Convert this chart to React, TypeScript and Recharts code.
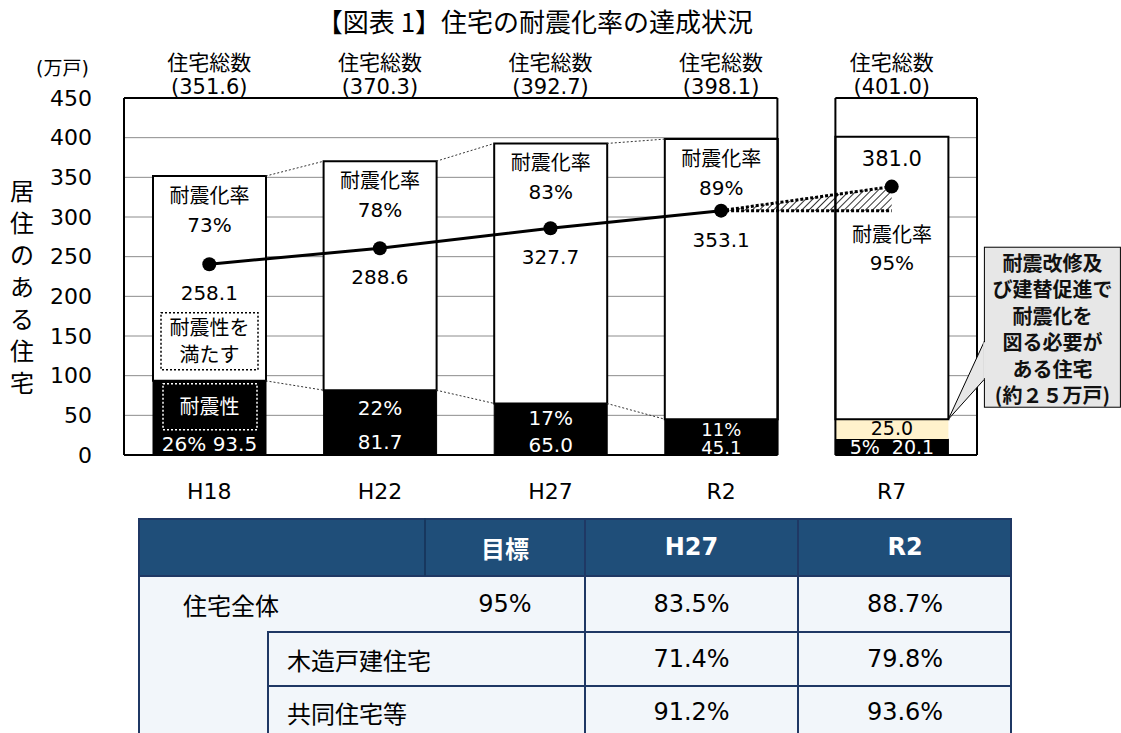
import React from 'react';
import {
  ComposedChart,
  Bar,
  Line,
  Area,
  XAxis,
  YAxis,
  CartesianGrid,
  LabelList,
  ReferenceLine,
  ReferenceArea,
} from 'recharts';

// 住宅の耐震化の状況（万戸）
const years = ['H18', 'H22', 'H27', 'R2', 'R7'];
const totalLabels = ['351.6', '370.3', '392.7', '398.1', '401.0'];
const weak = [93.5, 81.7, 65.0, 45.1, 20.1]; // 耐震性なし
const strong = [258.1, 288.6, 327.7, 353.1, 381.0]; // 耐震性を満たす
const needed = [0, 0, 0, 0, 25.0]; // 耐震化を図る必要がある住宅
const strongRate = [73, 78, 83, 89, 95];
const weakRate = [26, 22, 17, 11, 5];
const trend = [240.5, 260.6, 285.9, 308.0, null];
const projection = [null, null, null, 308.0, 338.3];
const yTicks = [0, 50, 100, 150, 200, 250, 300, 350, 400, 450];
const axisTitle = '居住のある住宅';
const callout = ['耐震改修及', 'び建替促進で', '耐震化を', '図る必要が', 'ある住宅', '(約２５万戸)'];

const tableHead = ['目標', 'H27', 'R2'];
const tableRows = [
  { label: '住宅全体', target: '95%', h27: '83.5%', r2: '88.7%', sub: false },
  { label: '木造戸建住宅', target: '', h27: '71.4%', r2: '79.8%', sub: true },
  { label: '共同住宅等', target: '', h27: '91.2%', r2: '93.6%', sub: true },
];

const FONT = "'DejaVu Sans', 'Noto Sans CJK JP', sans-serif";
const JP = "'Noto Sans CJK JP', sans-serif";
const edge = 0.17; // bar inset inside each category band

const chartData = years.map((name, i) => ({
  name,
  weak: weak[i],
  needed: needed[i],
  strong: strong[i] - needed[i],
  trend: trend[i],
  proj: i === 4 ? projection[i] : null,
  hatch: projection[i] == null ? null : [projection[3], projection[i]],
}));

const seriesLine = (vals: number[]) => {
  const pts: { x: number; y: number | null }[] = [];
  for (let i = 0; i < 3; i++) {
    pts.push({ x: i + 1 - edge, y: vals[i] }, { x: i + 1 + edge, y: vals[i + 1] }, { x: i + 1.5, y: null });
  }
  return pts;
};
const topSeries = seriesLine(weak.map((w, i) => w + strong[i]));
const weakSeries = seriesLine(weak);

const box = (p: any) => {
  const vb = p.viewBox ?? p;
  return {
    x: Number(vb.x ?? p.x),
    y: Number(vb.y ?? p.y),
    width: Number(vb.width ?? p.width ?? 0),
    height: Number(vb.height ?? p.height ?? 0),
  };
};
const idx = (p: any) => years.indexOf(String(p.value));

const T = ({ x, y, children, fill = '#000', size = 20, weight = 400 }: any) => (
  <text x={x} y={y} textAnchor="middle" dominantBaseline="central" fill={fill} fontSize={size} fontFamily={FONT} fontWeight={weight}>
    {children}
  </text>
);

const renderStrong = (p: any) => {
  const i = idx(p);
  if (i < 0) return null;
  const { x, y, width, height } = box(p);
  const cx = x + width / 2;
  const bottom = y + height;
  if (i === 4) {
    return (
      <g>
        <T x={cx} y={y + 22} size={21}>{strong[i].toFixed(1)}</T>
        <T x={cx} y={y + 98}>耐震化率</T>
        <T x={cx} y={y + 126}>{strongRate[i]}%</T>
      </g>
    );
  }
  return (
    <g>
      <T x={cx} y={y + 20}>耐震化率</T>
      <T x={cx} y={y + 49}>{strongRate[i]}%</T>
      {i === 0 && (
        <g>
          <rect x={x + 8} y={bottom - 68} width={width - 16} height={57} fill="none" stroke="#000" strokeWidth={1.5} strokeDasharray="2 2" />
          <T x={cx} y={bottom - 53}>耐震性を</T>
          <T x={cx} y={bottom - 26}>満たす</T>
        </g>
      )}
    </g>
  );
};

const renderWeak = (p: any) => {
  const i = idx(p);
  if (i < 0) return null;
  const { x, y, width, height } = box(p);
  const cx = x + width / 2;
  const bottom = y + height;
  if (i === 0 || i === 4) {
    return (
      <g>
        {i === 0 && (
          <g>
            <rect x={x + 10} y={y + 3} width={width - 19} height={46} fill="none" stroke="#fff" strokeWidth={1.5} strokeDasharray="2 2" />
            <T x={cx} y={y + 26} fill="#fff">耐震性</T>
          </g>
        )}
        <T x={cx} y={bottom - (i === 4 ? 8 : 11)} fill="#fff" size={i === 4 ? 19 : 20}>
          {`${weakRate[i]}%${i === 4 ? '\u00a0\u00a0' : ' '}${weak[i].toFixed(1)}`}
        </T>
      </g>
    );
  }
  const small = height < 45;
  return (
    <g>
      <T x={cx} y={y + Math.min(18, height * 0.28)} fill="#fff" size={small ? 18 : 20}>{weakRate[i]}%</T>
      <T x={cx} y={bottom - Math.min(15, height * 0.2)} fill="#fff" size={small ? 18 : 20}>{weak[i].toFixed(1)}</T>
    </g>
  );
};

const renderNeeded = (p: any) => {
  const i = idx(p);
  if (i < 0 || !needed[i]) return null;
  const { x, y, width, height } = box(p);
  const ax = x + width;
  const ay = y;
  const bx = ax + 36;
  const by = ay - 172;
  return (
    <g>
      <T x={x + width / 2} y={y + height / 2 - 1} size={19}>{needed[i].toFixed(1)}</T>
      <rect x={bx} y={by} width={136} height={160} fill="#e7e7e7" stroke="#000" strokeWidth={1} />
      <polygon points={`${bx},${ay - 78} ${ax},${ay} ${bx},${ay - 40}`} fill="#e7e7e7" stroke="#000" strokeWidth={1} />
      <line x1={bx} y1={ay - 77} x2={bx} y2={ay - 41} stroke="#e7e7e7" strokeWidth={2} />
      {callout.map((t, k) => (
        <text key={k} x={bx + 68} y={by + 15 + k * 26.5} textAnchor="middle" dominantBaseline="central" fontSize={20} fontWeight={700} fontFamily={JP} fill="#111">
          {t}
        </text>
      ))}
    </g>
  );
};

const renderTrendValue = (p: any) => {
  const i = idx(p);
  if (i < 0 || i > 3) return null;
  const { x, y } = box(p);
  if (!isFinite(x) || !isFinite(y)) return null;
  return <T x={x} y={y + 29}>{strong[i].toFixed(1)}</T>;
};

const renderTopTick = (p: any) => {
  const i = years.indexOf(p.payload?.value);
  return (
    <g>
      <text x={p.x} y={p.y - 35} textAnchor="middle" dominantBaseline="central" fontSize={21} fontFamily={FONT} fill="#000">住宅総数</text>
      <text x={p.x} y={p.y - 11} textAnchor="middle" dominantBaseline="central" fontSize={21} fontFamily={FONT} fill="#000">({totalLabels[i]})</text>
    </g>
  );
};

const frame = { stroke: '#000', strokeWidth: 2 };

const DataTable = () => {
  const line = '#1f3864';
  const cell: React.CSSProperties = { position: 'absolute', display: 'flex', alignItems: 'center', justifyContent: 'center', fontSize: 24 };
  const colX = [0, 130, 287, 447, 660, 874];
  const rowY = [0, 58, 114, 168, 220];
  return (
    <div style={{ position: 'absolute', left: 138, top: 518, width: 874, height: 230, background: '#f2f6fa' }}>
      <div style={{ position: 'absolute', left: 0, top: 0, width: 874, height: 58, background: '#1f4e79' }} />
      {tableHead.map((h, k) => (
        <div key={h} style={{ ...cell, left: colX[k + 2], top: 0, width: colX[k + 3] - colX[k + 2], height: 58, color: '#fff', fontWeight: 700 }}>{h}</div>
      ))}
      {tableRows.map((r, k) => (
        <React.Fragment key={r.label}>
          <div style={{ ...cell, justifyContent: 'flex-start', left: r.sub ? colX[1] + 19 : 45, top: rowY[k + 1], height: rowY[k + 2] - rowY[k + 1], fontFamily: JP }}>{r.label}</div>
          <div style={{ ...cell, left: colX[2], top: rowY[k + 1], width: colX[3] - colX[2], height: rowY[k + 2] - rowY[k + 1] }}>{r.target}</div>
          <div style={{ ...cell, left: colX[3], top: rowY[k + 1], width: colX[4] - colX[3], height: rowY[k + 2] - rowY[k + 1] }}>{r.h27}</div>
          <div style={{ ...cell, left: colX[4], top: rowY[k + 1], width: colX[5] - colX[4], height: rowY[k + 2] - rowY[k + 1] }}>{r.r2}</div>
        </React.Fragment>
      ))}
      {/* grid lines */}
      <div style={{ position: 'absolute', left: 0, top: 0, width: 874, height: 230, border: `2px solid ${line}`, boxSizing: 'border-box' }} />
      <div style={{ position: 'absolute', left: 0, top: 57, width: 874, height: 2, background: line }} />
      <div style={{ position: 'absolute', left: 130, top: 113, width: 744, height: 2, background: line }} />
      <div style={{ position: 'absolute', left: 130, top: 167, width: 744, height: 2, background: line }} />
      <div style={{ position: 'absolute', left: 129, top: 113, width: 2, height: 117, background: line }} />
      <div style={{ position: 'absolute', left: 286, top: 0, width: 2, height: 58, background: '#17375e' }} />
      <div style={{ position: 'absolute', left: 446, top: 0, width: 2, height: 230, background: line }} />
      <div style={{ position: 'absolute', left: 659, top: 0, width: 2, height: 230, background: line }} />
    </div>
  );
};

export default function App() {
  return (
    <div style={{ position: 'absolute', left: 0, top: 0, width: 1121, height: 733, overflow: 'hidden', background: '#fff', fontFamily: FONT, color: '#000' }}>
      <div style={{ position: 'absolute', left: 0, top: 0 }}>
        <ComposedChart width={1121} height={510} data={chartData} margin={{ top: 38, right: 144, bottom: 5, left: 0 }} barCategoryGap="17%">
          <defs>
            <pattern id="hatch" patternUnits="userSpaceOnUse" width="5" height="5" patternTransform="rotate(45)">
              <line x1="0" y1="0" x2="0" y2="5" stroke="#000" strokeWidth="1.6" />
            </pattern>
          </defs>
          <CartesianGrid vertical={false} stroke="#8c8c8c" />
          <XAxis dataKey="name" height={50} tickSize={0} tickMargin={28} axisLine={false} tickLine={false} interval={0} tick={{ fontSize: 22, fill: '#000', fontFamily: FONT }} />
          <XAxis xAxisId="top" orientation="top" dataKey="name" height={60} tickSize={0} tickMargin={0} axisLine={false} tickLine={false} interval={0} tick={renderTopTick} />
          <XAxis xAxisId="num" type="number" dataKey="x" domain={[0, 5]} hide allowDataOverflow />
          <YAxis domain={[0, 450]} ticks={yTicks} width={124} tickSize={0} tickMargin={32} interval={0} axisLine={frame} tickLine={false} tick={{ fontSize: 22, fill: '#000', fontFamily: FONT }} />
          <ReferenceArea xAxisId="num" x1={4 - edge} x2={4 + edge} y1={-4} y2={454} ifOverflow="visible" fill="#fff" fillOpacity={1} stroke="none" zIndex={-10} />
          <Bar dataKey="weak" stackId="s" fill="#000" stroke="#000" strokeWidth={1} isAnimationActive={false}>
            <LabelList dataKey="name" content={renderWeak} />
          </Bar>
          <Bar dataKey="needed" stackId="s" fill="#fff2cc" stroke="none" isAnimationActive={false}>
            <LabelList dataKey="name" content={renderNeeded} />
          </Bar>
          <Bar dataKey="strong" stackId="s" fill="#fff" stroke="#000" strokeWidth={2} isAnimationActive={false}>
            <LabelList dataKey="name" content={renderStrong} />
          </Bar>
          <Line xAxisId="num" data={topSeries} dataKey="y" stroke="#333" strokeWidth={1} strokeDasharray="2 2" dot={false} isAnimationActive={false} />
          <Line xAxisId="num" data={weakSeries} dataKey="y" stroke="#333" strokeWidth={1} strokeDasharray="2 2" dot={false} isAnimationActive={false} />
          <Area xAxisId="top" dataKey="hatch" fill="url(#hatch)" fillOpacity={1} stroke="#000" strokeWidth={3} strokeDasharray="3 2" isAnimationActive={false} zIndex={450} />
          <Line dataKey="trend" stroke="#000" strokeWidth={3} dot={{ r: 7, fill: '#000', stroke: '#000', strokeWidth: 0 }} isAnimationActive={false}>
            <LabelList dataKey="name" content={renderTrendValue} />
          </Line>
          <Line xAxisId="top" dataKey="proj" stroke="none" dot={{ r: 7, fill: '#000', stroke: '#000', strokeWidth: 0 }} isAnimationActive={false} />
          <ReferenceLine xAxisId="num" segment={[{ x: 0, y: 450 }, { x: 4 - edge, y: 450 }]} {...frame} />
          <ReferenceLine xAxisId="num" segment={[{ x: 4 + edge, y: 450 }, { x: 5, y: 450 }]} {...frame} />
          <ReferenceLine xAxisId="num" segment={[{ x: 0, y: 0 }, { x: 4 - edge, y: 0 }]} {...frame} />
          <ReferenceLine xAxisId="num" segment={[{ x: 4 + edge, y: 0 }, { x: 5, y: 0 }]} {...frame} />
          <ReferenceLine xAxisId="num" segment={[{ x: 4 - edge, y: 0 }, { x: 4 - edge, y: 450 }]} {...frame} />
          <ReferenceLine xAxisId="num" segment={[{ x: 4 + edge, y: 0 }, { x: 4 + edge, y: 450 }]} {...frame} />
          <ReferenceLine xAxisId="num" segment={[{ x: 5, y: 0 }, { x: 5, y: 450 }]} {...frame} />
        </ComposedChart>
      </div>
      <div style={{ position: 'absolute', left: 0, width: 1070, top: 4, textAlign: 'center', fontSize: 26, lineHeight: '34px', fontFamily: JP }}>
        【図表 1】住宅の耐震化率の達成状況
      </div>
      <div style={{ position: 'absolute', left: 36, top: 56, fontSize: 19, lineHeight: '24px', fontFamily: FONT }}>(万戸)</div>
      <div style={{ position: 'absolute', left: 9, top: 174, width: 26, fontSize: 24, lineHeight: '32px', fontFamily: JP, textAlign: 'center' }}>
        {axisTitle.split('').map((c, i) => (
          <div key={i}>{c}</div>
        ))}
      </div>
      <DataTable />
    </div>
  );
}
